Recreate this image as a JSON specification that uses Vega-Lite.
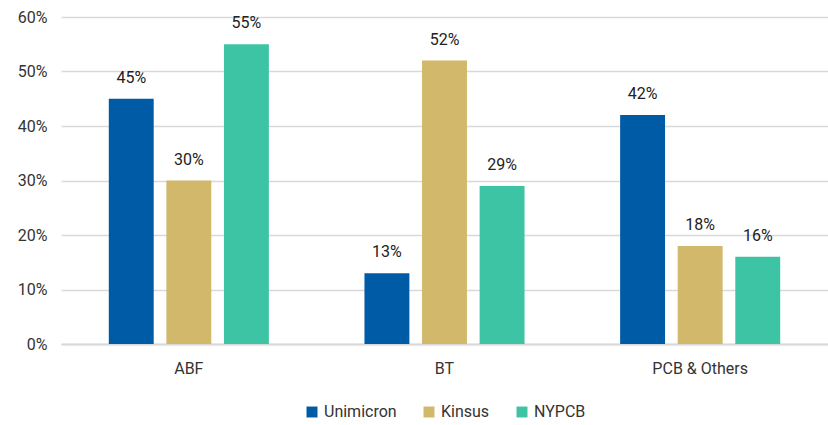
{
  "$schema": "https://vega.github.io/schema/vega-lite/v6.json",
  "autosize": "none",
  "width": 767,
  "height": 327,
  "padding": {"left": 61, "top": 17, "right": 0, "bottom": 81},
  "background": "white",
  "config": {"font": "Roboto", "view": {"stroke": null},
    "legend": {"layout": {"bottom": {"anchor": "middle"}}}},
  "data": {"values": [
    {"segment": "ABF", "company": "Unimicron", "share": 0.45},
    {"segment": "ABF", "company": "Kinsus", "share": 0.30},
    {"segment": "ABF", "company": "NYPCB", "share": 0.55},
    {"segment": "BT", "company": "Unimicron", "share": 0.13},
    {"segment": "BT", "company": "Kinsus", "share": 0.52},
    {"segment": "BT", "company": "NYPCB", "share": 0.29},
    {"segment": "PCB & Others", "company": "Unimicron", "share": 0.42},
    {"segment": "PCB & Others", "company": "Kinsus", "share": 0.18},
    {"segment": "PCB & Others", "company": "NYPCB", "share": 0.16}
  ]},
  "encoding": {
    "x": {"field": "segment", "type": "nominal", "sort": null,
      "scale": {"paddingInner": 0, "paddingOuter": 0},
      "axis": {"title": null, "labelAngle": 0, "ticks": false, "domainColor": "#d9d9d9", "domainWidth": 2, "labelFontSize": 16, "labelColor": "#333333", "labelPadding": 16}},
    "xOffset": {"field": "company", "type": "nominal", "sort": ["Unimicron", "Kinsus", "NYPCB"],
      "scale": {"paddingInner": 0.22, "paddingOuter": 0.83}},
    "y": {"field": "share", "type": "quantitative",
      "scale": {"domain": [0, 0.6]},
      "axis": {"title": null, "format": ".0%", "tickCount": 6, "domain": false, "ticks": false, "gridColor": "#d9d9d9", "gridWidth": 1.5, "labelFontSize": 16, "labelColor": "#333333", "labelPadding": 14}}
  },
  "layer": [
    {"mark": {"type": "bar"},
     "encoding": {
       "color": {"field": "company", "type": "nominal", "sort": ["Unimicron", "Kinsus", "NYPCB"],
         "scale": {"domain": ["Unimicron", "Kinsus", "NYPCB"], "range": ["#005BA6", "#D1B86A", "#3DC4A5"]},
         "legend": {"title": null, "orient": "bottom", "direction": "horizontal", "symbolType": "square", "symbolSize": 120, "symbolStrokeWidth": 0, "labelFontSize": 16, "labelColor": "#333333", "columnPadding": 24, "offset": 28}}
     }},
    {"mark": {"type": "text", "baseline": "bottom", "dy": -13, "fontSize": 16, "color": "#222222"},
     "encoding": {"text": {"field": "share", "type": "quantitative", "format": ".0%"}}}
  ]
}
